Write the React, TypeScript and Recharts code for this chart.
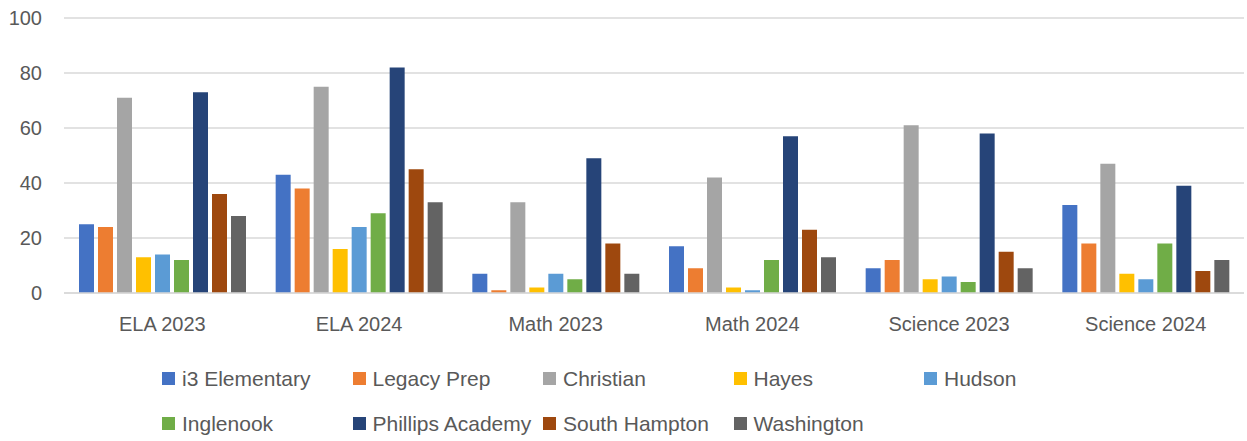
import React from 'react';
import { BarChart, Bar, XAxis, YAxis, CartesianGrid } from 'recharts';

const CATEGORIES = ['ELA 2023', 'ELA 2024', 'Math 2023', 'Math 2024', 'Science 2023', 'Science 2024'];

const SCHOOLS = [
  'i3 Elementary', 'Legacy Prep', 'Christian', 'Hayes', 'Hudson',
  'Inglenook', 'Phillips Academy', 'South Hampton', 'Washington',
];

// one array per school, same order as CATEGORIES
const i3Elementary = [25, 43, 7, 17, 9, 32];
const legacyPrep = [24, 38, 1, 9, 12, 18];
const christian = [71, 75, 33, 42, 61, 47];
const hayes = [13, 16, 2, 2, 5, 7];
const hudson = [14, 24, 7, 1, 6, 5];
const inglenook = [12, 29, 5, 12, 4, 18];
const phillipsAcademy = [73, 82, 49, 57, 58, 39];
const southHampton = [36, 45, 18, 23, 15, 8];
const washington = [28, 33, 7, 13, 9, 12];

const SERIES = [
  i3Elementary, legacyPrep, christian, hayes, hudson,
  inglenook, phillipsAcademy, southHampton, washington,
];

const Y_TICKS = [0, 20, 40, 60, 80, 100];

const COLORS = [
  '#4472C4', '#ED7D31', '#A5A5A5', '#FFC000', '#5B9BD5',
  '#70AD47', '#264478', '#9E480E', '#636363',
];

const TEXT = '#595959';
const FONT = '"Liberation Sans", Arial, sans-serif';

const chartData = CATEGORIES.map((cat, i) => {
  const row: Record<string, string | number> = { category: cat };
  SCHOOLS.forEach((s, j) => { row[s] = SERIES[j][i]; });
  return row;
});

const App: React.FC = () => {
  return (
    <div style={{ position: 'absolute', left: 0, top: 0, width: 1247, height: 441, background: '#fff', fontFamily: FONT }}>
      <BarChart
        width={1247}
        height={345}
        data={chartData}
        margin={{ top: 18, right: 3, left: 0, bottom: 0 }}
        barGap={4}
        barSize={15}
      >
        <CartesianGrid vertical={false} stroke="#d9d9d9" strokeWidth={1.5} />
        <XAxis
          dataKey="category"
          height={52}
          axisLine={{ stroke: '#d9d9d9', strokeWidth: 1.5 }}
          tickLine={false}
          tickSize={0}
          tickMargin={24}
          tick={{ fill: TEXT, fontSize: 20, fontFamily: FONT }}
        />
        <YAxis
          width={64}
          domain={[0, 100]}
          ticks={Y_TICKS}
          axisLine={false}
          tickLine={false}
          tickSize={0}
          tickMargin={22}
          tick={{ fill: TEXT, fontSize: 20, fontFamily: FONT }}
        />
        {SCHOOLS.map((s, i) => (
          <Bar key={s} dataKey={s} fill={COLORS[i]} isAnimationActive={false} />
        ))}
      </BarChart>

      {/* legend, two rows of five columns */}
      {SCHOOLS.map((s, i) => {
        const col = i % 5;
        const row = Math.floor(i / 5);
        return (
          <div
            key={s}
            style={{
              position: 'absolute',
              left: 162 + col * 190.5,
              top: 378.5 + row * 45 - 14,
              height: 28,
              display: 'flex',
              alignItems: 'center',
              whiteSpace: 'nowrap',
            }}
          >
            <span style={{ width: 13, height: 13, background: COLORS[i], display: 'inline-block', marginRight: 7 }} />
            <span style={{ fontSize: 21, color: TEXT }}>{s}</span>
          </div>
        );
      })}
    </div>
  );
};

export default App;
